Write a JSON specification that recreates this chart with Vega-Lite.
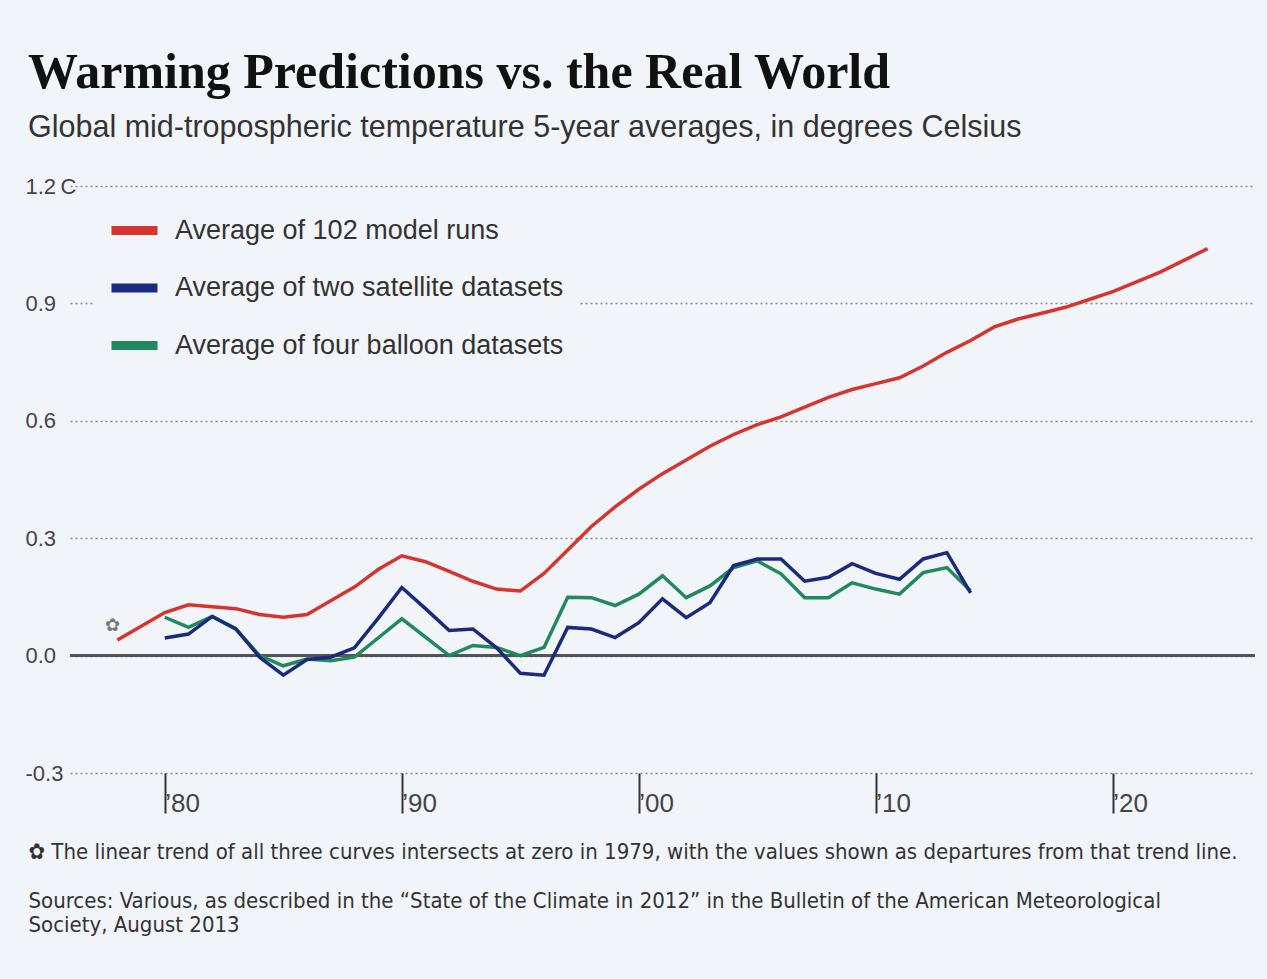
{
  "$schema": "https://vega.github.io/schema/vega-lite/v6.json",
  "width": 1185,
  "height": 587,
  "autosize": {"type": "none"},
  "padding": {"left": 70, "top": 186, "right": 12, "bottom": 206},
  "background": "#f1f4f8",
  "config": {"view": {"stroke": null}},
  "title": {
    "text": "Warming Predictions vs. the Real World",
    "subtitle": "Global mid-tropospheric temperature 5-year averages, in degrees Celsius",
    "anchor": "start",
    "frame": "group",
    "dx": -42,
    "offset": 32,
    "font": "Liberation Serif",
    "fontSize": 50,
    "fontWeight": "bold",
    "color": "#111111",
    "subtitleFont": "Liberation Sans",
    "subtitleFontSize": 30.5,
    "subtitleColor": "#333333",
    "subtitlePadding": 15
  },
  "datasets": {
    "series": [
      {"year": 1980, "value": 0.098, "series": "Average of four balloon datasets"},
      {"year": 1981, "value": 0.072, "series": "Average of four balloon datasets"},
      {"year": 1982, "value": 0.1, "series": "Average of four balloon datasets"},
      {"year": 1983, "value": 0.068, "series": "Average of four balloon datasets"},
      {"year": 1984, "value": 0.0, "series": "Average of four balloon datasets"},
      {"year": 1985, "value": -0.026, "series": "Average of four balloon datasets"},
      {"year": 1986, "value": -0.009, "series": "Average of four balloon datasets"},
      {"year": 1987, "value": -0.013, "series": "Average of four balloon datasets"},
      {"year": 1988, "value": -0.004, "series": "Average of four balloon datasets"},
      {"year": 1989, "value": 0.045, "series": "Average of four balloon datasets"},
      {"year": 1990, "value": 0.094, "series": "Average of four balloon datasets"},
      {"year": 1991, "value": 0.047, "series": "Average of four balloon datasets"},
      {"year": 1992, "value": 0.0, "series": "Average of four balloon datasets"},
      {"year": 1993, "value": 0.026, "series": "Average of four balloon datasets"},
      {"year": 1994, "value": 0.021, "series": "Average of four balloon datasets"},
      {"year": 1995, "value": 0.0, "series": "Average of four balloon datasets"},
      {"year": 1996, "value": 0.021, "series": "Average of four balloon datasets"},
      {"year": 1997, "value": 0.149, "series": "Average of four balloon datasets"},
      {"year": 1998, "value": 0.148, "series": "Average of four balloon datasets"},
      {"year": 1999, "value": 0.128, "series": "Average of four balloon datasets"},
      {"year": 2000, "value": 0.157, "series": "Average of four balloon datasets"},
      {"year": 2001, "value": 0.204, "series": "Average of four balloon datasets"},
      {"year": 2002, "value": 0.148, "series": "Average of four balloon datasets"},
      {"year": 2003, "value": 0.178, "series": "Average of four balloon datasets"},
      {"year": 2004, "value": 0.225, "series": "Average of four balloon datasets"},
      {"year": 2005, "value": 0.242, "series": "Average of four balloon datasets"},
      {"year": 2006, "value": 0.209, "series": "Average of four balloon datasets"},
      {"year": 2007, "value": 0.148, "series": "Average of four balloon datasets"},
      {"year": 2008, "value": 0.148, "series": "Average of four balloon datasets"},
      {"year": 2009, "value": 0.186, "series": "Average of four balloon datasets"},
      {"year": 2010, "value": 0.17, "series": "Average of four balloon datasets"},
      {"year": 2011, "value": 0.157, "series": "Average of four balloon datasets"},
      {"year": 2012, "value": 0.212, "series": "Average of four balloon datasets"},
      {"year": 2013, "value": 0.225, "series": "Average of four balloon datasets"},
      {"year": 2014, "value": 0.165, "series": "Average of four balloon datasets"},
      {"year": 1980, "value": 0.045, "series": "Average of two satellite datasets"},
      {"year": 1981, "value": 0.055, "series": "Average of two satellite datasets"},
      {"year": 1982, "value": 0.1, "series": "Average of two satellite datasets"},
      {"year": 1983, "value": 0.068, "series": "Average of two satellite datasets"},
      {"year": 1984, "value": -0.004, "series": "Average of two satellite datasets"},
      {"year": 1985, "value": -0.05, "series": "Average of two satellite datasets"},
      {"year": 1986, "value": -0.01, "series": "Average of two satellite datasets"},
      {"year": 1987, "value": -0.004, "series": "Average of two satellite datasets"},
      {"year": 1988, "value": 0.02, "series": "Average of two satellite datasets"},
      {"year": 1989, "value": 0.095, "series": "Average of two satellite datasets"},
      {"year": 1990, "value": 0.174, "series": "Average of two satellite datasets"},
      {"year": 1991, "value": 0.12, "series": "Average of two satellite datasets"},
      {"year": 1992, "value": 0.064, "series": "Average of two satellite datasets"},
      {"year": 1993, "value": 0.068, "series": "Average of two satellite datasets"},
      {"year": 1994, "value": 0.02, "series": "Average of two satellite datasets"},
      {"year": 1995, "value": -0.045, "series": "Average of two satellite datasets"},
      {"year": 1996, "value": -0.05, "series": "Average of two satellite datasets"},
      {"year": 1997, "value": 0.072, "series": "Average of two satellite datasets"},
      {"year": 1998, "value": 0.068, "series": "Average of two satellite datasets"},
      {"year": 1999, "value": 0.046, "series": "Average of two satellite datasets"},
      {"year": 2000, "value": 0.084, "series": "Average of two satellite datasets"},
      {"year": 2001, "value": 0.145, "series": "Average of two satellite datasets"},
      {"year": 2002, "value": 0.097, "series": "Average of two satellite datasets"},
      {"year": 2003, "value": 0.135, "series": "Average of two satellite datasets"},
      {"year": 2004, "value": 0.23, "series": "Average of two satellite datasets"},
      {"year": 2005, "value": 0.247, "series": "Average of two satellite datasets"},
      {"year": 2006, "value": 0.247, "series": "Average of two satellite datasets"},
      {"year": 2007, "value": 0.19, "series": "Average of two satellite datasets"},
      {"year": 2008, "value": 0.2, "series": "Average of two satellite datasets"},
      {"year": 2009, "value": 0.235, "series": "Average of two satellite datasets"},
      {"year": 2010, "value": 0.21, "series": "Average of two satellite datasets"},
      {"year": 2011, "value": 0.195, "series": "Average of two satellite datasets"},
      {"year": 2012, "value": 0.247, "series": "Average of two satellite datasets"},
      {"year": 2013, "value": 0.263, "series": "Average of two satellite datasets"},
      {"year": 2014, "value": 0.16, "series": "Average of two satellite datasets"},
      {"year": 1978, "value": 0.04, "series": "Average of 102 model runs"},
      {"year": 1979, "value": 0.075, "series": "Average of 102 model runs"},
      {"year": 1980, "value": 0.11, "series": "Average of 102 model runs"},
      {"year": 1981, "value": 0.13, "series": "Average of 102 model runs"},
      {"year": 1982, "value": 0.125, "series": "Average of 102 model runs"},
      {"year": 1983, "value": 0.12, "series": "Average of 102 model runs"},
      {"year": 1984, "value": 0.105, "series": "Average of 102 model runs"},
      {"year": 1985, "value": 0.098, "series": "Average of 102 model runs"},
      {"year": 1986, "value": 0.105, "series": "Average of 102 model runs"},
      {"year": 1987, "value": 0.14, "series": "Average of 102 model runs"},
      {"year": 1988, "value": 0.175, "series": "Average of 102 model runs"},
      {"year": 1989, "value": 0.22, "series": "Average of 102 model runs"},
      {"year": 1990, "value": 0.255, "series": "Average of 102 model runs"},
      {"year": 1991, "value": 0.24, "series": "Average of 102 model runs"},
      {"year": 1992, "value": 0.215, "series": "Average of 102 model runs"},
      {"year": 1993, "value": 0.19, "series": "Average of 102 model runs"},
      {"year": 1994, "value": 0.17, "series": "Average of 102 model runs"},
      {"year": 1995, "value": 0.165, "series": "Average of 102 model runs"},
      {"year": 1996, "value": 0.21, "series": "Average of 102 model runs"},
      {"year": 1997, "value": 0.27, "series": "Average of 102 model runs"},
      {"year": 1998, "value": 0.33, "series": "Average of 102 model runs"},
      {"year": 1999, "value": 0.38, "series": "Average of 102 model runs"},
      {"year": 2000, "value": 0.425, "series": "Average of 102 model runs"},
      {"year": 2001, "value": 0.465, "series": "Average of 102 model runs"},
      {"year": 2002, "value": 0.5, "series": "Average of 102 model runs"},
      {"year": 2003, "value": 0.535, "series": "Average of 102 model runs"},
      {"year": 2004, "value": 0.565, "series": "Average of 102 model runs"},
      {"year": 2005, "value": 0.59, "series": "Average of 102 model runs"},
      {"year": 2006, "value": 0.61, "series": "Average of 102 model runs"},
      {"year": 2007, "value": 0.635, "series": "Average of 102 model runs"},
      {"year": 2008, "value": 0.66, "series": "Average of 102 model runs"},
      {"year": 2009, "value": 0.68, "series": "Average of 102 model runs"},
      {"year": 2010, "value": 0.695, "series": "Average of 102 model runs"},
      {"year": 2011, "value": 0.71, "series": "Average of 102 model runs"},
      {"year": 2012, "value": 0.74, "series": "Average of 102 model runs"},
      {"year": 2013, "value": 0.775, "series": "Average of 102 model runs"},
      {"year": 2014, "value": 0.805, "series": "Average of 102 model runs"},
      {"year": 2015, "value": 0.84, "series": "Average of 102 model runs"},
      {"year": 2016, "value": 0.86, "series": "Average of 102 model runs"},
      {"year": 2017, "value": 0.875, "series": "Average of 102 model runs"},
      {"year": 2018, "value": 0.89, "series": "Average of 102 model runs"},
      {"year": 2019, "value": 0.91, "series": "Average of 102 model runs"},
      {"year": 2020, "value": 0.93, "series": "Average of 102 model runs"},
      {"year": 2021, "value": 0.955, "series": "Average of 102 model runs"},
      {"year": 2022, "value": 0.98, "series": "Average of 102 model runs"},
      {"year": 2023, "value": 1.01, "series": "Average of 102 model runs"},
      {"year": 2024, "value": 1.04, "series": "Average of 102 model runs"}
    ],
    "note": [{"year": 1977.8, "value": 0.075, "mark": "\u273f"}]
  },
  "layer": [
    {
      "data": {"name": "series"},
      "mark": {"type": "rule", "color": "#555555", "strokeWidth": 2},
      "encoding": {"y": {"datum": 0, "type": "quantitative"}}
    },
    {
      "data": {"name": "series"},
      "mark": {"type": "line", "strokeWidth": 3.5, "strokeJoin": "miter", "clip": false},
      "encoding": {
        "x": {
          "field": "year",
          "type": "quantitative",
          "scale": {"domain": [1976, 2026], "nice": false, "zero": false},
          "axis": {
            "values": [1980, 1990, 2000, 2010, 2020],
            "labelExpr": "'\u2019' + substring(toString(datum.value), 2)",
            "domain": false,
            "grid": false,
            "tickSize": 40,
            "tickWidth": 2,
            "tickColor": "#333333",
            "tickOffset": 0,
            "labelAlign": "left",
            "labelBaseline": "middle",
            "labelDx": 7,
            "labelPadding": -10,
            "labelFont": "Liberation Sans",
            "labelFontSize": 26,
            "labelColor": "#444444",
            "labelFlush": false,
            "labelOverlap": false,
            "title": ["\u273f The linear trend of all three curves intersects at zero in 1979, with the values shown as departures from that trend line.", "\u200b", "Sources: Various, as described in the \u201cState of the Climate in 2012\u201d in the Bulletin of the American Meteorological", "Society, August 2013"],
            "titleX": -42,
            "titleY": 68,
            "titleAlign": "left",
            "titleAnchor": "start",
            "titleBaseline": "top",
            "titleFont": "Liberation Sans Narrow, DejaVu Sans Condensed, Liberation Sans",
            "titleFontSize": 22,
            "titleFontWeight": "normal",
            "titleColor": "#333333",
            "titleLineHeight": 24.5
          }
        },
        "y": {
          "field": "value",
          "type": "quantitative",
          "scale": {"domain": [-0.3, 1.2], "nice": false, "zero": false},
          "axis": {
            "values": [-0.3, 0, 0.3, 0.6, 0.9, 1.2],
            "labelExpr": "datum.value == 1.2 ? '1.2\u2009C' : (datum.value < 0 ? '-0.3' : format(datum.value, '.1f'))",
            "domain": false,
            "ticks": false,
            "labelAlign": "left",
            "labelBaseline": "middle",
            "labelPadding": 45,
            "labelFont": "Liberation Sans",
            "labelFontSize": 22,
            "labelColor": "#444444",
            "grid": true,
            "gridDash": [2, 3],
            "gridColor": "#8a8a8a",
            "gridWidth": 1.5,
            "title": null
          }
        },
        "color": {
          "field": "series",
          "type": "nominal",
          "scale": {
            "domain": ["Average of 102 model runs", "Average of two satellite datasets", "Average of four balloon datasets"],
            "range": ["#d6342f", "#1b2a7c", "#21895d"]
          },
          "legend": {
            "orient": "none",
            "legendX": 23,
            "legendY": 3,
            "title": null,
            "fillColor": "#f1f4f8",
            "padding": 14,
            "symbolType": "stroke",
            "symbolSize": 2116,
            "symbolStrokeWidth": 9,
            "rowPadding": 11.5,
            "labelOffset": 13,
            "labelFont": "Liberation Sans",
            "labelFontSize": 27,
            "labelColor": "#333333",
            "labelLimit": 600
          }
        }
      }
    },
    {
      "data": {"name": "note"},
      "mark": {"type": "text", "fontSize": 18, "color": "#777777", "font": "DejaVu Sans"},
      "encoding": {
        "x": {"field": "year", "type": "quantitative"},
        "y": {"field": "value", "type": "quantitative"},
        "text": {"field": "mark"}
      }
    }
  ]
}
